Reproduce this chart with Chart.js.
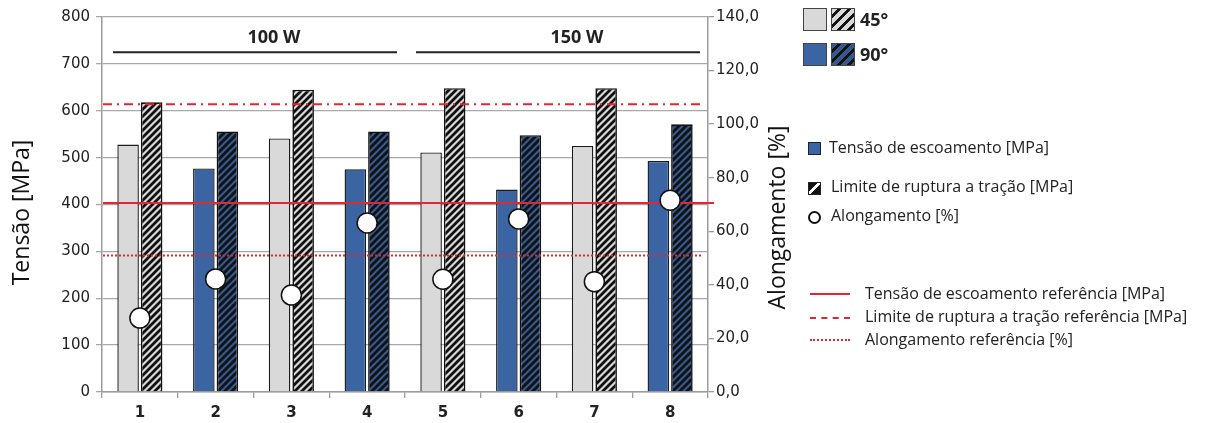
<!DOCTYPE html>
<html>
<head>
<meta charset="utf-8">
<title>Tensão e alongamento</title>
<script src="https://cdn.jsdelivr.net/npm/chart.js@4.4.1/dist/chart.umd.min.js"></script>
<style>
  html, body { margin: 0; padding: 0; background: #fff; }
  #wrap { position: relative; width: 1206px; height: 423px; overflow: hidden; }
  #tensileChart { position: absolute; left: 0; top: 0; }
  .lg { position: absolute; font-family: "Open Sans", sans-serif; color: #222; white-space: nowrap; }
  .box { position: absolute; box-sizing: border-box; }
  .big { width: 24px; height: 23px; border: 1px solid #444; }
  .small { width: 13px; height: 13px; border: 1.5px solid #222; }
  .gray { background: #d9d9d9; }
  .blue { background: #3b64a2; }
  .hatch-gray { background: repeating-linear-gradient(135deg, #d9d9d9 0 4px, #111 4px 7px); }
  .hatch-blue { background: repeating-linear-gradient(135deg, #33598f 0 4px, #111 4px 7px); }
  .hatch-mini { background: linear-gradient(135deg, #111 0 40%, #fff 40% 58%, #111 58% 100%); }
  .ring { width: 13px; height: 13px; border: 2px solid #111; border-radius: 50%; background: #fff; }
  .deg { font-size: 18px; font-weight: bold; }
  .txt { font-size: 16px; }
  .ref { position: absolute; width: 40px; height: 0; }
</style>
</head>
<body>
<div id="wrap">
  <canvas id="tensileChart" width="1206" height="423"></canvas>

  <div class="box big gray" style="left:803px; top:8px;"></div>
  <div class="box big hatch-gray" style="left:831px; top:8px;"></div>
  <div class="lg deg" style="left:860px; top:7px;">45°</div>
  <div class="box big blue" style="left:803px; top:43px;"></div>
  <div class="box big hatch-blue" style="left:831px; top:43px;"></div>
  <div class="lg deg" style="left:860px; top:42px;">90°</div>

  <div class="box small blue" style="left:808px; top:142px;"></div>
  <div class="lg txt" style="left:829px; top:136px;">Tensão de escoamento [MPa]</div>
  <div class="box small hatch-mini" style="left:808px; top:182px;"></div>
  <div class="lg txt" style="left:831px; top:175px;">Limite de ruptura a tração [MPa]</div>
  <div class="box ring" style="left:808px; top:211px;"></div>
  <div class="lg txt" style="left:831px; top:204px;">Alongamento [%]</div>

  <div class="ref" style="left:810px; top:293px; border-top:2px solid #e3262f;"></div>
  <div class="lg txt" style="left:865px; top:282px;">Tensão de escoamento referência [MPa]</div>
  <div class="ref" style="left:810px; top:317px; border-top:2px dashed #e3262f;"></div>
  <div class="lg txt" style="left:865px; top:305px;">Limite de ruptura a tração referência [MPa]</div>
  <div class="ref" style="left:810px; top:339px; border-top:2px dotted #e3262f;"></div>
  <div class="lg txt" style="left:865px; top:328px;">Alongamento referência [%]</div>
</div>

<script>
// Amostras 1..8, alternando orientação 45° / 90°
const categories = ['1', '2', '3', '4', '5', '6', '7', '8'];
const orientation = ['45°', '90°', '45°', '90°', '45°', '90°', '45°', '90°'];
const yieldStress = [528, 477, 541, 475, 511, 432, 525, 493];
const tensileStrength = [618, 556, 645, 556, 648, 548, 648, 571];
const elongation = [27.6, 42.2, 36.2, 63.1, 42.1, 64.6, 41.2, 71.6];

// grupos de potência
const powerLabels = ['100 W', '150 W'];
const powerFirst = [0, 4];
const powerLast = [3, 7];

// valores de referência
const refYield = 403;
const refTensile = 614;
const refElongation = 51;

const RED = '#e3262f';
const AXIS = '#9c9c9c';
const TITLE_FONT = '23px "Open Sans", sans-serif';

function hatch(bg) {
    const c = document.createElement('canvas');
    c.width = 7; c.height = 7;
    const g = c.getContext('2d');
    g.fillStyle = bg;
    g.fillRect(0, 0, 7, 7);
    g.strokeStyle = '#111';
    g.lineWidth = 2.8;
    g.beginPath();
    g.moveTo(-1, 8); g.lineTo(8, -1);
    g.moveTo(-4, 4); g.lineTo(4, -4);
    g.moveTo(3, 11); g.lineTo(11, 3);
    g.stroke();
    return g.createPattern(c, 'repeat');
}

const solidColors = orientation.map(o => o === '45°' ? '#d9d9d9' : '#3b64a2');
const hatchColors = orientation.map(o => hatch(o === '45°' ? '#d9d9d9' : '#33598f'));

const overlays = {
    id: 'overlays',
    beforeDatasetDraw(chart, args) {
        // linhas de referência ficam entre as barras e os círculos
        if (args.index !== 2) return;
        const { ctx, chartArea } = chart;
        const y = chart.scales.y, y1 = chart.scales.y1;
        const lines = [
            { py: y.getPixelForValue(refYield), dash: [], right: chartArea.right + 6 },
            { py: y.getPixelForValue(refTensile), dash: [9, 5, 2, 5], right: chartArea.right - 6 },
            { py: y1.getPixelForValue(refElongation), dash: [2, 2], right: chartArea.right - 6 }
        ];
        ctx.save();
        ctx.strokeStyle = RED;
        ctx.lineWidth = 2;
        lines.forEach(l => {
            ctx.setLineDash(l.dash);
            ctx.beginPath();
            ctx.moveTo(chartArea.left + 1, l.py);
            ctx.lineTo(l.right, l.py);
            ctx.stroke();
        });
        ctx.restore();
    },
    afterDraw(chart) {
        const { ctx, chartArea } = chart;
        const x = chart.scales.x, y = chart.scales.y;
        const step = x.getPixelForValue(1) - x.getPixelForValue(0);
        const lineY = y.getPixelForValue(725);
        const textY = y.getPixelForValue(755);
        ctx.save();
        ctx.strokeStyle = '#222';
        ctx.fillStyle = '#222';
        ctx.lineWidth = 2;
        ctx.font = 'bold 18px "Open Sans", sans-serif';
        ctx.textAlign = 'center';
        ctx.textBaseline = 'middle';
        powerLabels.forEach((label, i) => {
            const x0 = x.getPixelForValue(powerFirst[i]) - step / 2 + 11;
            const x1 = x.getPixelForValue(powerLast[i]) + step / 2 - 8;
            ctx.beginPath();
            ctx.moveTo(x0, lineY);
            ctx.lineTo(x1, lineY);
            ctx.stroke();
            ctx.fillText(label, (x0 + x1) / 2 + 19, textY);
        });

        // títulos dos eixos, ambos lidos de baixo para cima
        const midY = (chartArea.top + chartArea.bottom) / 2;
        ctx.font = TITLE_FONT;
        ctx.fillStyle = '#111';
        [['Tensão [MPa]', 22, midY + 8], ['Alongamento [%]', chartArea.right + 70, midY + 13]].forEach(([text, tx, ty]) => {
            ctx.save();
            ctx.translate(tx, ty);
            ctx.rotate(-Math.PI / 2);
            ctx.fillText(text, 0, 0);
            ctx.restore();
        });
        ctx.restore();
    }
};

new Chart(document.getElementById('tensileChart'), {
    data: {
        labels: categories,
        datasets: [{
            type: 'bar',
            label: 'Tensão de escoamento [MPa]',
            data: yieldStress,
            backgroundColor: solidColors,
            borderColor: '#1c1c1c',
            borderWidth: 1.4,
            yAxisID: 'y',
            order: 1,
            categoryPercentage: 0.622,
            barPercentage: 0.915
        }, {
            type: 'bar',
            label: 'Limite de ruptura a tração [MPa]',
            data: tensileStrength,
            backgroundColor: hatchColors,
            borderColor: '#111',
            borderWidth: 1.6,
            yAxisID: 'y',
            order: 2,
            categoryPercentage: 0.622,
            barPercentage: 0.915
        }, {
            type: 'line',
            label: 'Alongamento [%]',
            data: elongation,
            yAxisID: 'y1',
            showLine: false,
            pointRadius: 10,
            pointBackgroundColor: '#fff',
            pointBorderColor: '#111',
            pointBorderWidth: 1.5,
            order: 0
        }]
    },
    options: {
        responsive: false,
        animation: false,
        layout: { padding: { top: 17, right: 410, left: 0, bottom: 0 } },
        plugins: {
            legend: { display: false },
            tooltip: { enabled: false }
        },
        scales: {
            x: {
                offset: true,
                grid: { offset: true, drawOnChartArea: false, tickLength: 6, color: AXIS, lineWidth: 1.3 },
                border: { color: AXIS, width: 1.5 },
                ticks: { font: { family: 'DejaVu Sans', size: 15, weight: 'bold' }, color: '#222', padding: 6 },
                afterFit: s => { s.height = 31; }
            },
            y: {
                position: 'left',
                min: 0,
                max: 800,
                ticks: { stepSize: 100, font: { family: 'DejaVu Sans', size: 15 }, color: '#222', padding: 6 },
                grid: { color: '#a8a8a8', lineWidth: 1.3, tickLength: 6 },
                border: { color: AXIS, width: 1.5 },
                afterFit: s => { s.width = 102; }
            },
            y1: {
                position: 'right',
                min: 0,
                max: 140,
                ticks: {
                    stepSize: 20,
                    font: { family: 'DejaVu Sans', size: 15 },
                    color: '#222',
                    padding: 2,
                    callback: v => v.toFixed(1).replace('.', ',')
                },
                grid: { drawOnChartArea: false, tickLength: 6, color: AXIS, lineWidth: 1.3 },
                border: { color: AXIS, width: 1.5 },
                afterFit: s => { s.width = 88; }
            }
        }
    },
    plugins: [overlays]
});
</script>
</body>
</html>
